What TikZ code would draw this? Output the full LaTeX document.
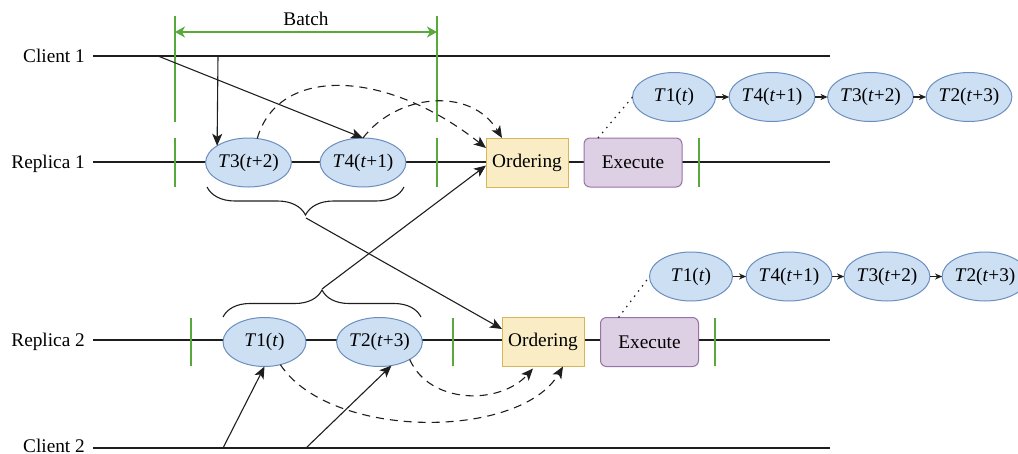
\documentclass[tikz,border=0pt]{standalone}
\usepackage{fontspec}
\setmainfont{Liberation Serif}
\usetikzlibrary{arrows.meta,calc,decorations.pathreplacing,shapes.geometric}
\definecolor{ellfill}{RGB}{205,223,243}
\definecolor{elldraw}{RGB}{108,142,191}
\definecolor{ordfill}{RGB}{250,236,196}
\definecolor{orddraw}{RGB}{214,182,86}
\definecolor{exfill}{RGB}{222,208,228}
\definecolor{exdraw}{RGB}{150,115,166}
\definecolor{bgreen}{RGB}{88,168,60}
\definecolor{lc}{RGB}{30,30,30}
\newcommand{\Tl}[2]{\textit{T}#1(\textit{t}#2)}
\begin{document}
\begin{tikzpicture}[x=1pt,y=-1pt,
  font=\fontsize{19.3}{23}\selectfont,
  tnode/.style={ellipse, draw=elldraw, fill=ellfill, line width=1pt, minimum width=83pt, minimum height=49pt, inner sep=0pt, outer sep=0pt},
  ordbox/.style={rectangle, draw=orddraw, fill=ordfill, line width=1pt, minimum width=82pt, minimum height=49pt, inner sep=0pt, outer sep=0pt},
  exbox/.style={rectangle, rounded corners=6pt, draw=exdraw, fill=exfill, line width=1pt, minimum width=98pt, minimum height=49pt, inner sep=0pt, outer sep=0pt},
  gline/.style={draw=bgreen, line width=1.4pt},
  tline/.style={draw=lc, line width=1.1pt},
  arr/.style={draw=lc, line width=1.1pt, -{Stealth[length=12pt,width=10pt,inset=3pt]}},
  dasharr/.style={arr, dash pattern=on 8pt off 6pt},
  dotl/.style={draw=lc, line width=1.2pt, dash pattern=on 1.5pt off 5pt},
  smallarr/.style={draw=lc, line width=1.1pt, -{Stealth[length=7pt,width=6pt,inset=2pt]}},
  lbl/.style={anchor=base east, inner sep=0pt},
  bracestyle/.style={draw=lc, line width=1.1pt, decorate, decoration={brace, amplitude=#1}}
]
\useasboundingbox (0,0) rectangle (1018,453);

% timelines
\coordinate (c1s) at (93,56);  \coordinate (c1e) at (830,56);
\coordinate (r1s) at (93,162); \coordinate (r1e) at (830,162);
\coordinate (r2s) at (93,340); \coordinate (r2e) at (830,340);
\coordinate (c2s) at (93,448); \coordinate (c2e) at (830,448);
\draw[tline] (c1s) -- (c1e);
\draw[tline] (r1s) -- (r1e);
\draw[tline] (r2s) -- (r2e);
\draw[tline] (c2s) -- (c2e);

\node[lbl] (lc1) at (85,62.5) {Client 1};
\node[lbl] (lr1) at (85,168.5) {Replica 1};
\node[lbl] (lr2) at (85,346.5) {Replica 2};
\node[lbl] (lc2) at (85,452.5) {Client 2};

% batch markers
\coordinate (ba1) at (175,16); \coordinate (ba2) at (175,122);
\coordinate (bb1) at (437,16); \coordinate (bb2) at (437,122);
\draw[gline] (ba1) -- (ba2);
\draw[gline] (bb1) -- (bb2);
\coordinate (bl) at (175,32); \coordinate (br) at (437,32);
\draw[draw=bgreen, line width=1.3pt, {Stealth[length=10pt,width=11pt,inset=3pt]}-{Stealth[length=10pt,width=11pt,inset=3pt]}] (bl) -- (br);
\node[anchor=base, inner sep=0pt] (batch) at (306,25) {Batch};

% ticks on replica lines
\foreach \x/\n in {175/a,437/b,699/c}{
  \coordinate (t1\n s) at (\x,138); \coordinate (t1\n e) at (\x,187);
  \draw[gline] (t1\n s) -- (t1\n e);
}
\foreach \x/\n in {191/a,453/b,715/c}{
  \coordinate (t2\n s) at (\x,318); \coordinate (t2\n e) at (\x,366);
  \draw[gline] (t2\n s) -- (t2\n e);
}

% replica 1 nodes
\node[tnode] (T3) at (248.5,162.5) {\Tl{3}{+2}};
\node[tnode] (T4) at (363,162.5) {\Tl{4}{+1}};
\node[ordbox] (ord1) at (527,162.5) {Ordering};
\node[exbox] (ex1) at (633,162.5) {Execute};

% replica 2 nodes
\node[tnode] (T1) at (264.5,342) {\Tl{1}{}};
\node[tnode] (T2) at (379.5,342) {\Tl{2}{+3}};
\node[ordbox] (ord2) at (543,342) {Ordering};
\node[exbox] (ex2) at (649.5,342) {Execute};

% result chains
\node[tnode] (ua) at (674,97) {\Tl{1}{}};
\node[tnode] (ub) at (772,97) {\Tl{4}{+1}};
\node[tnode] (uc) at (870.5,97) {\Tl{3}{+2}};
\node[tnode] (ud) at (969,97) {\Tl{2}{+3}};
\draw[smallarr] (ua) -- (ub);
\draw[smallarr] (ub) -- (uc);
\draw[smallarr] (uc) -- (ud);

\node[tnode] (la) at (691,276.5) {\Tl{1}{}};
\node[tnode] (lb) at (789,276.5) {\Tl{4}{+1}};
\node[tnode] (lcc) at (887,276.5) {\Tl{3}{+2}};
\node[tnode] (ld) at (985,276.5) {\Tl{2}{+3}};
\draw[smallarr] (la) -- (lb);
\draw[smallarr] (lb) -- (lcc);
\draw[smallarr] (lcc) -- (ld);

\draw[dotl] ($(ex1.north west)+(14,0)$) -- (ua.west);
\draw[dotl] ($(ex2.north west)+(18,0)$) -- (la.west);

% client requests
\coordinate (c1a) at (218,56);
\coordinate (c1b) at (158,56);
\draw[arr] (c1a) -- (T3.152);
\draw[arr] (c1b) -- (T4.north);
\coordinate (c2a) at (223,448);
\coordinate (c2b) at (306,448);
\draw[arr] (c2a) -- (T1.south);
\draw[arr] (c2b) -- (T2.-63);

% dashed forwarding
\draw[dasharr] (T3.70) .. controls (278,66) and (385,68) .. ($(ord1.north west)+(0,10)$);
\draw[dasharr] (T4.north) .. controls (395,95) and (470,85) .. ($(ord1.north west)+(16,0)$);
\draw[dasharr] (T1.-55) .. controls (330,440) and (520,440) .. ($(ord2.south east)+(-21,0)$);
\draw[dasharr] (T2.-30) .. controls (430,405) and (500,405) .. ($(ord2.south west)+(31,2)$);

% braces
\coordinate (br1a) at (404,187); \coordinate (br1b) at (207,187);
\draw[bracestyle=28pt] (br1a) -- (br1b);
\coordinate (br2a) at (223,317); \coordinate (br2b) at (421,317);
\draw[bracestyle=27pt] (br2a) -- (br2b);
\coordinate (bt1) at (306,218);
\coordinate (bt2) at (322,289);
\draw[arr] (bt1) -- ($(ord2.west)+(0,-13)$);
\draw[arr] (bt2) -- ($(ord1.west)+(0,3)$);
\end{tikzpicture}
\end{document}
